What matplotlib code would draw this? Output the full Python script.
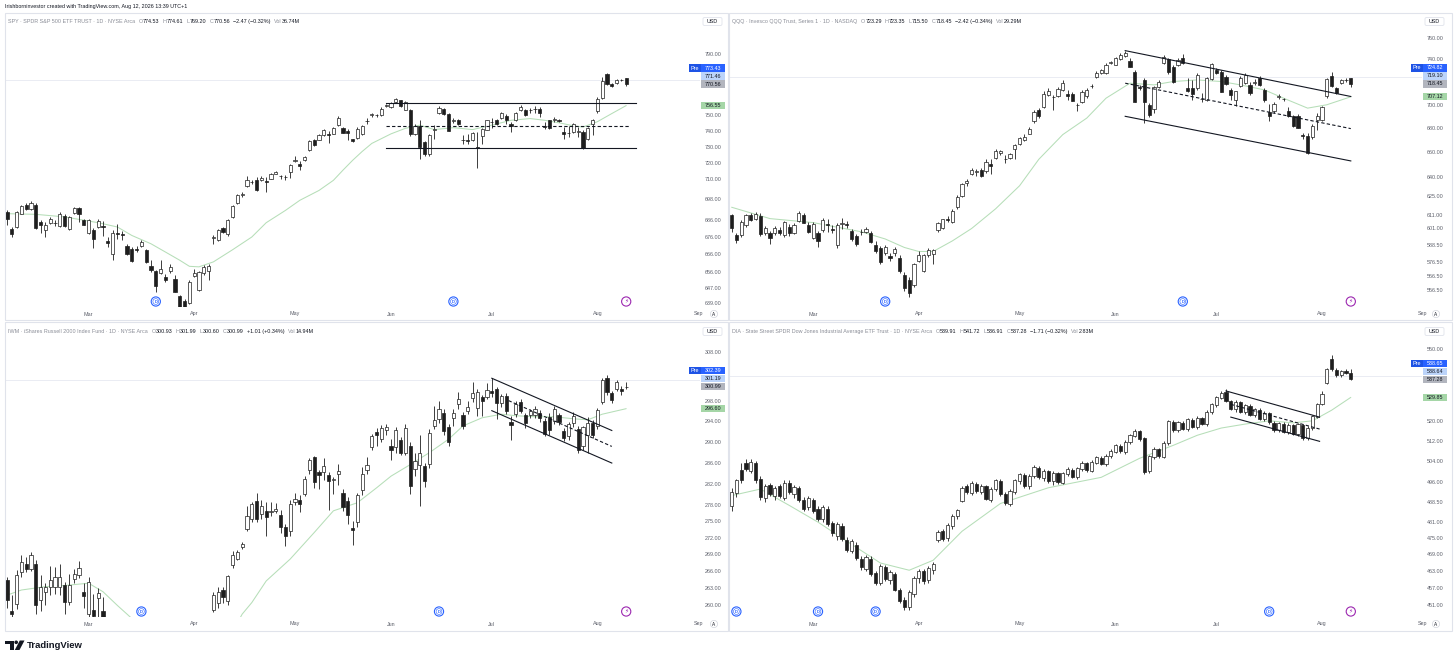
import matplotlib
matplotlib.use("Agg")
import matplotlib.pyplot as plt
from matplotlib.patches import Rectangle, Circle, Polygon, FancyBboxPatch
from matplotlib.ticker import NullLocator
import numpy as np

plt.rcParams['font.family'] = ['Liberation Sans', 'DejaVu Sans']

# ---------------------------------------------------------------- data
MONTHS = ['Mar', 'Apr', 'May', 'Jun', 'Jul', 'Aug', 'Sep']
MONTH_BAR = [17, 39, 60, 80, 101, 123, 144]

# SPY daily candles (bar 0 = early Feb 2026, bar 129 = Aug 11 2026)
SPY_O = [690.8, 681.1, 682.1, 689.9, 695.3, 692.4, 694.9, 685.0, 680.5, 684.4,
         684.6, 682.7, 688.4, 681.1, 690.1, 693.3, 686.4, 678.6, 680.5, 682.1,
         682.9, 674.0, 666.8, 678.8, 678.2, 671.3, 669.6, 669.4, 671.3, 668.7,
         660.0, 656.9, 655.9, 653.6, 657.0, 652.5, 642.9, 640.5, 639.5, 654.3,
         646.5, 655.9, 656.9, 676.0, 674.8, 681.5, 677.8, 688.0, 696.0, 701.2,
         706.2, 708.6, 710.3, 709.8, 709.6, 710.8, 713.8, 712.5, 712.0, 714.6,
         721.7, 720.0, 722.0, 728.1, 734.8, 734.8, 737.8, 738.2, 738.6, 744.3,
         742.0, 740.5, 735.0, 735.6, 738.2, 746.6, 750.6, 750.4, 750.6, 756.0,
         755.3, 758.9, 759.9, 753.9, 753.9, 738.6, 743.3, 733.4, 726.1, 741.0,
         751.8, 754.6, 751.4, 746.7, 747.5, 734.9, 734.9, 734.4, 730.4, 737.0,
         741.2, 746.3, 747.5, 748.6, 749.6, 744.9, 747.1, 753.5, 753.9, 753.4,
         754.6, 754.1, 743.6, 747.1, 747.0, 747.1, 739.6, 739.0, 739.6, 739.8,
         739.6, 735.4, 744.5, 752.8, 761.4, 777.0, 770.9, 771.1, 773.0, 774.53]
SPY_H = [692.2, 682.1, 691.4, 695.0, 696.0, 697.2, 696.0, 686.4, 685.0, 688.0,
         686.0, 690.8, 689.5, 688.6, 694.0, 694.0, 687.0, 687.0, 681.5, 686.6,
         685.4, 676.3, 680.1, 684.0, 679.7, 672.0, 670.6, 671.1, 674.8, 669.5,
         663.0, 657.5, 663.0, 655.5, 660.8, 654.6, 643.5, 641.2, 652.0, 658.3,
         657.0, 660.2, 660.8, 677.2, 681.0, 682.3, 687.0, 695.3, 701.5, 702.6,
         712.7, 710.1, 711.7, 712.3, 711.6, 714.2, 715.4, 713.2, 712.9, 720.0,
         724.4, 721.6, 724.6, 734.4, 735.5, 738.2, 741.5, 740.5, 743.0, 749.9,
         742.6, 741.3, 735.4, 742.6, 744.0, 748.6, 752.0, 751.4, 755.3, 757.6,
         759.0, 761.3, 760.4, 759.5, 754.5, 744.5, 747.1, 734.0, 738.6, 744.0,
         756.1, 755.0, 752.0, 748.8, 748.0, 737.6, 738.6, 739.6, 739.6, 742.4,
         747.6, 748.8, 748.0, 752.4, 750.8, 746.0, 752.2, 756.6, 754.5, 754.8,
         756.5, 755.5, 746.0, 747.5, 749.3, 747.8, 742.8, 743.2, 745.5, 742.6,
         741.0, 743.0, 748.0, 762.0, 775.0, 778.0, 771.5, 774.0, 774.0, 774.61]
SPY_L = [683.1, 676.3, 681.5, 689.5, 691.8, 691.9, 681.0, 678.6, 676.3, 684.0,
         682.9, 682.3, 682.3, 680.5, 689.9, 685.0, 683.0, 678.0, 670.2, 681.5,
         676.7, 670.6, 663.0, 675.3, 674.4, 666.0, 662.0, 667.7, 670.6, 661.5,
         656.5, 645.4, 655.5, 650.9, 655.9, 645.2, 634.0, 633.0, 638.5, 653.6,
         645.9, 655.0, 652.2, 672.0, 674.0, 678.6, 677.0, 687.5, 695.5, 699.8,
         705.8, 707.4, 703.4, 709.4, 703.0, 710.5, 713.6, 710.5, 709.8, 711.0,
         721.2, 715.8, 721.6, 727.7, 731.0, 734.4, 737.4, 733.0, 738.2, 743.7,
         738.8, 734.4, 733.4, 735.0, 737.6, 744.7, 749.3, 749.0, 750.0, 755.3,
         755.0, 758.5, 755.8, 753.5, 737.0, 738.0, 723.0, 724.6, 724.4, 735.0,
         751.4, 750.5, 740.0, 745.4, 744.0, 732.3, 732.3, 733.8, 717.0, 732.3,
         740.8, 742.4, 744.4, 748.0, 745.0, 739.8, 746.6, 753.0, 749.8, 751.6,
         751.6, 749.2, 741.5, 741.8, 746.0, 746.0, 735.5, 736.5, 739.0, 736.5,
         729.2, 734.5, 738.0, 752.0, 760.8, 770.0, 768.8, 770.8, 772.5, 769.20]
SPY_C = [686.6, 678.2, 690.8, 694.3, 692.4, 696.3, 681.5, 683.1, 683.5, 686.6,
         684.4, 689.9, 682.7, 688.0, 693.3, 689.9, 683.5, 686.4, 675.3, 685.8,
         682.1, 672.8, 678.6, 678.0, 677.2, 666.8, 662.6, 668.8, 673.2, 662.0,
         657.4, 648.5, 658.3, 651.8, 659.3, 645.5, 636.0, 634.5, 651.1, 655.9,
         656.4, 659.3, 659.7, 676.2, 680.1, 679.2, 686.4, 694.5, 700.8, 701.5,
         710.3, 708.8, 704.2, 711.2, 708.6, 713.8, 714.6, 712.3, 711.9, 719.0,
         722.5, 718.4, 724.0, 733.8, 731.6, 737.6, 741.0, 738.0, 742.4, 748.4,
         739.2, 739.2, 733.8, 741.8, 743.2, 746.8, 750.8, 750.6, 754.6, 756.8,
         758.5, 760.8, 756.2, 758.9, 738.4, 743.3, 730.2, 725.7, 737.6, 741.4,
         755.0, 751.0, 740.6, 747.3, 744.5, 734.7, 733.8, 739.0, 729.4, 741.7,
         747.1, 746.1, 745.0, 751.6, 747.5, 743.2, 751.6, 755.5, 750.2, 753.9,
         754.4, 752.0, 743.0, 742.4, 747.8, 746.9, 738.2, 738.8, 744.9, 740.4,
         729.8, 742.4, 747.1, 761.0, 772.8, 770.6, 769.6, 773.3, 773.2, 770.56]
SPY_SMA_X = [0, 6, 12, 19, 23, 26, 30, 33, 36, 38, 40, 43, 47, 51, 54, 58, 61, 65, 68, 70,
             72, 74, 76, 80, 83, 86, 89, 93, 97, 101, 105, 109, 112, 115, 118, 120, 123, 126, 129]
SPY_SMA_Y = [689.9, 689.5, 688.0, 684.6, 682.1, 677.2, 672.4, 667.7, 663.0, 659.6,
             659.3, 662.1, 669.0, 676.3, 684.6, 691.8, 697.8, 703.7, 709.8, 716.0,
             722.0, 727.5, 732.5, 738.5, 742.0, 744.0, 741.2, 742.4, 741.2, 744.0,
             747.1, 748.2, 747.1, 745.5, 743.6, 742.8, 746.2, 751.4, 756.55]
SPY_TICKS = [639, 647, 656, 666, 676, 686, 698, 710, 720, 730, 740, 750, 760, 770, 780, 790]
SPY_PRE, SPY_POST = 773.43, 771.46
SPY_LINE_X = [(79, 131), (79, 131), (79, 129.5)]
SPY_LINE_Y = [(758.2, 758.2), (729.6, 729.6), (743.7, 743.7)]
SPY_LINE_STYLE = ['solid', 'solid', 'dashed']
SPY_DIV = [31, 93]
SPY_EARN = [129]

# QQQ
QQQ_O = [610.8, 596.2, 596.2, 603.4, 611.3, 608.4, 610.3, 597.4, 597.4, 598.0,
         599.8, 596.2, 602.2, 598.0, 606.7, 611.3, 603.4, 594.3, 597.4, 599.8,
         604.6, 601.0, 589.0, 604.2, 604.6, 599.0, 595.7, 598.6, 598.6, 597.4,
         589.0, 586.6, 583.0, 580.7, 583.0, 579.5, 567.5, 563.9, 560.7, 577.7,
         570.3, 581.9, 582.1, 599.8, 601.5, 607.9, 605.9, 616.8, 625.9, 635.9,
         642.7, 644.5, 646.1, 645.3, 650.6, 656.0, 660.0, 655.1, 656.0, 662.7,
         666.8, 670.8, 675.8, 686.0, 695.4, 698.2, 708.8, 707.0, 708.2, 713.2,
         709.7, 709.7, 699.9, 702.7, 707.4, 716.4, 724.4, 728.6, 728.0, 737.5,
         735.5, 740.6, 743.7, 739.4, 729.4, 716.1, 722.0, 700.2, 696.2, 716.1,
         737.0, 740.6, 734.0, 735.5, 741.5, 714.6, 714.6, 714.6, 705.4, 704.5,
         723.0, 730.9, 729.4, 725.0, 713.2, 704.0, 717.0, 719.1, 717.6, 719.1,
         723.5, 713.2, 693.7, 694.5, 707.0, 705.0, 694.5, 690.3, 690.9, 674.3,
         674.1, 673.0, 686.9, 687.4, 707.4, 725.6, 714.6, 719.4, 722.0, 723.29]
QQQ_H = [612.0, 597.4, 607.0, 612.0, 613.0, 613.4, 612.5, 603.0, 599.0, 602.5,
         602.0, 606.5, 604.0, 605.0, 613.8, 612.5, 605.5, 606.0, 599.5, 609.0,
         608.4, 603.4, 605.0, 608.9, 606.5, 600.5, 597.0, 600.5, 602.0, 599.0,
         591.5, 588.0, 589.0, 583.0, 587.8, 581.5, 569.5, 566.0, 576.0, 584.2,
         582.5, 587.0, 586.0, 605.9, 608.0, 610.0, 615.3, 626.5, 636.0, 639.2,
         647.5, 646.6, 647.5, 654.6, 654.6, 662.7, 662.5, 657.8, 660.0, 667.0,
         673.0, 675.0, 681.3, 695.9, 697.0, 712.0, 714.6, 708.8, 716.1, 722.0,
         713.2, 711.0, 701.8, 713.2, 714.6, 718.0, 730.0, 731.5, 737.0, 739.5,
         743.0, 746.5, 748.6, 741.5, 731.0, 717.5, 723.5, 702.0, 717.0, 721.5,
         745.0, 742.0, 735.0, 741.5, 745.5, 723.5, 722.0, 728.0, 710.3, 725.0,
         737.5, 732.5, 730.5, 726.0, 714.5, 712.0, 725.5, 728.0, 720.0, 722.5,
         725.5, 715.0, 700.5, 702.5, 709.7, 706.5, 698.2, 691.5, 692.0, 676.3,
         676.0, 683.5, 693.1, 699.5, 724.0, 728.8, 716.0, 723.0, 723.5, 723.35]
QQQ_L = [598.6, 590.2, 595.0, 602.0, 606.5, 607.0, 595.5, 596.0, 589.5, 596.5,
         596.5, 595.0, 595.5, 597.0, 606.0, 605.0, 597.5, 593.0, 587.8, 598.6,
         598.6, 597.4, 587.0, 601.0, 601.5, 592.0, 588.5, 596.2, 597.4, 590.4,
         583.0, 574.9, 582.0, 577.2, 580.7, 569.0, 556.5, 552.2, 558.9, 576.5,
         569.5, 580.5, 575.4, 598.6, 600.5, 605.5, 605.0, 616.0, 625.0, 633.6,
         641.8, 641.4, 640.5, 644.0, 642.7, 655.0, 658.5, 651.9, 654.5, 655.0,
         666.0, 669.5, 675.0, 685.0, 689.0, 697.5, 708.0, 695.3, 707.0, 712.5,
         704.5, 703.5, 694.6, 701.5, 706.5, 715.0, 723.5, 727.5, 727.0, 736.0,
         735.0, 740.0, 742.4, 733.5, 702.8, 713.2, 684.6, 690.0, 693.1, 715.0,
         736.0, 727.5, 719.0, 734.5, 736.0, 711.7, 704.5, 713.5, 703.0, 703.5,
         722.0, 727.5, 711.5, 717.5, 704.5, 699.5, 716.0, 718.0, 709.0, 717.5,
         716.5, 703.0, 686.0, 693.0, 705.0, 703.5, 689.5, 681.5, 680.0, 671.5,
         659.0, 671.5, 679.1, 686.5, 706.5, 716.0, 709.5, 718.5, 720.0, 715.50]
QQQ_C = [601.5, 592.6, 605.9, 610.8, 607.2, 612.0, 596.7, 601.5, 593.8, 601.5,
         597.4, 605.9, 597.4, 603.9, 612.6, 605.4, 598.6, 604.6, 591.9, 607.1,
         603.4, 599.8, 603.9, 604.8, 603.4, 593.3, 589.5, 598.1, 600.5, 590.9,
         584.2, 576.7, 587.1, 579.5, 586.1, 570.3, 558.4, 554.9, 574.9, 581.4,
         581.9, 585.4, 585.4, 605.4, 607.9, 607.2, 613.8, 624.9, 634.9, 637.5,
         646.1, 645.3, 640.9, 652.5, 649.3, 661.3, 661.3, 654.9, 658.6, 666.2,
         672.2, 672.9, 679.6, 693.7, 690.3, 709.7, 712.6, 706.7, 713.8, 719.7,
         708.0, 703.9, 699.6, 711.7, 713.2, 716.8, 728.6, 730.9, 735.5, 737.7,
         741.5, 744.6, 746.8, 734.0, 703.0, 714.6, 703.0, 691.7, 716.1, 720.5,
         743.1, 728.9, 720.5, 740.0, 737.0, 712.6, 709.7, 726.5, 705.0, 723.5,
         736.4, 728.0, 711.7, 718.5, 708.8, 712.4, 723.8, 726.5, 710.3, 720.6,
         717.6, 704.5, 690.3, 701.0, 708.0, 704.8, 690.3, 682.4, 680.4, 673.8,
         659.9, 682.4, 690.9, 698.2, 722.9, 716.7, 710.3, 722.3, 722.2, 718.45]
QQQ_SMA_X = [0, 8, 17, 27, 32, 36, 39, 42, 46, 50, 55, 60, 64, 69, 74, 78, 83, 88, 92, 97,
             102, 106, 111, 115, 120, 124, 129]
QQQ_SMA_Y = [617.0, 608.4, 605.4, 598.6, 593.3, 587.1, 584.2, 584.2, 591.9, 601.0,
             615.8, 633.6, 654.6, 674.9, 688.8, 705.9, 719.1, 717.6, 720.6, 722.0,
             720.6, 717.6, 713.2, 705.9, 697.3, 700.2, 707.12]
QQQ_TICKS = [556.5, 566.5, 576.5, 588.5, 601, 611, 625, 640, 660, 680, 700, 720, 740, 760]
QQQ_PRE, QQQ_POST = 724.82, 719.10
QQQ_LINE_X = [(82, 129), (82, 129), (82, 129)]
QQQ_LINE_Y = [(748.6, 707.4), (719.1, 679.9), (690.3, 653.3)]
QQQ_LINE_STYLE = ['solid', 'dashed', 'solid']
QQQ_DIV = [32, 94]
QQQ_EARN = [129]

# IWM
IWM_O = [264.4, 259.0, 260.3, 265.8, 267.3, 266.4, 267.3, 260.9, 262.4, 263.2,
         263.2, 263.2, 263.6, 260.6, 264.7, 265.4, 262.4, 258.5, 259.2, 261.3,
         259.0, 256.0, 253.2, 256.6, 255.9, 254.0, 252.5, 251.2, 252.3, 252.8,
         249.8, 248.0, 246.0, 247.6, 247.0, 247.5, 243.0, 242.0, 241.2, 247.5,
         246.5, 250.3, 251.0, 259.2, 260.4, 262.7, 260.8, 267.2, 268.3, 270.3,
         273.7, 275.5, 278.9, 276.4, 277.0, 276.7, 277.0, 276.3, 274.1, 273.3,
         278.6, 279.0, 280.2, 284.6, 287.2, 284.2, 284.2, 283.8, 282.8, 284.0,
         280.3, 278.8, 273.9, 274.9, 280.8, 284.7, 289.1, 292.1, 290.6, 292.4,
         289.2, 289.0, 290.5, 288.0, 289.2, 284.8, 285.7, 285.5, 285.8, 293.1,
         294.5, 295.8, 293.0, 294.7, 297.5, 295.4, 296.1, 298.7, 296.8, 299.0,
         299.0, 300.1, 300.6, 297.7, 299.2, 294.0, 295.5, 298.0, 295.3, 295.3,
         295.3, 295.7, 294.2, 295.0, 294.1, 295.4, 292.2, 291.3, 293.7, 292.5,
         289.2, 291.4, 293.8, 293.1, 297.9, 302.7, 299.7, 300.6, 300.6, 300.93]
IWM_H = [265.0, 261.8, 266.2, 268.9, 268.5, 269.4, 268.0, 265.3, 264.0, 267.0,
         266.8, 267.3, 264.1, 265.5, 266.5, 267.8, 264.0, 265.0, 262.0, 263.0,
         261.5, 257.2, 257.5, 257.6, 256.8, 254.4, 253.0, 252.6, 254.0, 253.2,
         250.8, 248.4, 249.0, 248.0, 249.4, 248.3, 243.4, 242.4, 246.8, 249.6,
         250.5, 252.4, 253.0, 262.4, 263.2, 263.3, 265.4, 269.6, 269.8, 271.2,
         277.9, 278.6, 280.4, 279.0, 278.6, 278.6, 278.4, 277.2, 274.5, 279.0,
         280.3, 279.9, 283.5, 287.0, 287.3, 284.7, 286.9, 284.3, 283.4, 285.8,
         281.0, 279.6, 275.1, 280.3, 285.2, 287.2, 291.6, 292.7, 293.4, 293.5,
         290.7, 293.0, 291.0, 293.5, 290.0, 288.0, 291.5, 286.0, 292.5, 297.1,
         298.1, 296.5, 293.5, 296.5, 300.0, 296.0, 298.2, 302.0, 300.5, 299.4,
         301.7, 302.8, 301.0, 299.5, 299.8, 295.1, 298.2, 298.5, 295.8, 296.6,
         297.2, 296.3, 294.7, 295.7, 297.2, 295.8, 292.8, 294.0, 296.0, 293.2,
         293.2, 295.0, 294.4, 296.7, 302.7, 303.4, 300.2, 302.4, 301.1, 301.99]
IWM_L = [259.5, 257.0, 259.4, 265.0, 265.8, 266.0, 258.5, 259.0, 260.0, 261.8,
         262.0, 261.8, 258.6, 260.0, 264.0, 264.8, 259.5, 257.5, 256.0, 257.0,
         255.5, 253.9, 252.5, 255.0, 254.5, 251.5, 250.2, 250.5, 251.8, 250.0,
         247.9, 244.2, 245.6, 245.5, 246.6, 243.5, 240.2, 239.3, 240.8, 247.0,
         246.0, 249.8, 249.5, 258.9, 259.5, 260.5, 260.0, 266.6, 268.0, 270.0,
         273.2, 274.9, 274.9, 275.5, 272.4, 276.0, 276.6, 273.0, 270.6, 272.4,
         278.0, 276.8, 279.8, 284.0, 281.3, 281.0, 282.7, 277.2, 280.2, 281.8,
         277.0, 274.5, 270.8, 274.0, 280.0, 284.0, 288.5, 289.2, 290.0, 291.5,
         286.6, 288.0, 287.5, 287.5, 280.1, 283.5, 277.9, 281.5, 285.0, 292.5,
         293.8, 291.5, 289.2, 293.1, 296.6, 292.6, 295.5, 298.0, 295.2, 295.2,
         298.5, 299.0, 294.6, 297.0, 295.5, 290.4, 295.0, 295.8, 292.8, 294.8,
         294.8, 294.0, 291.2, 291.5, 293.5, 293.3, 290.2, 290.5, 293.0, 288.0,
         288.5, 287.9, 290.8, 292.6, 297.5, 299.4, 297.8, 300.2, 299.4, 300.60]
IWM_C = [260.9, 258.6, 265.3, 267.6, 266.4, 268.9, 260.1, 263.2, 263.2, 264.4,
         265.0, 265.0, 260.6, 263.6, 265.6, 266.6, 261.6, 264.2, 258.2, 262.1,
         257.0, 254.4, 256.8, 255.6, 255.2, 251.8, 250.6, 252.0, 253.6, 250.3,
         248.4, 245.2, 248.5, 246.0, 249.0, 243.8, 241.0, 240.0, 246.2, 249.0,
         250.1, 252.0, 252.6, 261.8, 262.4, 261.5, 265.2, 268.9, 269.4, 270.9,
         276.1, 278.2, 275.4, 277.9, 275.8, 277.0, 277.4, 274.1, 272.4, 278.3,
         279.2, 278.3, 282.9, 286.6, 282.4, 283.7, 285.5, 282.6, 282.9, 284.5,
         277.8, 276.3, 273.4, 280.0, 283.9, 285.6, 291.2, 291.5, 292.8, 293.0,
         288.5, 292.3, 288.0, 292.8, 281.7, 286.3, 288.0, 282.6, 291.9, 294.4,
         296.6, 292.2, 290.0, 295.8, 298.5, 293.1, 296.9, 299.8, 300.0, 298.2,
         300.4, 299.7, 297.7, 299.1, 296.2, 293.3, 297.6, 296.2, 293.7, 296.2,
         296.6, 294.7, 291.7, 292.3, 296.6, 293.9, 290.9, 293.5, 295.2, 288.5,
         292.9, 293.7, 291.4, 296.4, 302.3, 300.0, 298.3, 301.9, 300.2, 300.99]
IWM_SMA_X = [0, 3, 8, 12, 17, 20, 23, 25, 29, 33, 37, 41, 44, 47, 49, 51, 54, 59, 64, 68,
             73, 77, 80, 84, 88, 92, 95, 99, 103, 106, 110, 114, 118, 121, 124, 129]
IWM_SMA_Y = [261.8, 262.7, 263.3, 263.5, 263.9, 262.4, 260.0, 258.5, 255.5, 252.5,
             250.5, 250.0, 251.5, 255.5, 258.5, 260.5, 264.3, 268.2, 273.0, 277.0,
             278.5, 281.3, 283.5, 285.7, 288.0, 290.6, 293.2, 294.8, 295.5, 295.2,
             295.0, 295.0, 294.6, 294.4, 295.5, 296.6]
IWM_TICKS = [260, 263, 266, 269, 272, 275, 278, 282, 286, 290, 294, 298, 302, 308]
IWM_PRE, IWM_POST = 302.39, 301.19
IWM_LINE_X = [(101, 126), (101, 126), (104.5, 126)]
IWM_LINE_Y = [(302.7, 292.3), (296.2, 286.0), (298.2, 289.2)]
IWM_LINE_STYLE = ['solid', 'solid', 'dashed']
IWM_DIV = [28, 90]
IWM_EARN = [129]

# DIA
DIA_O = [487.0, 492.0, 501.0, 503.5, 500.5, 503.5, 497.5, 490.0, 495.0, 491.0,
         494.5, 490.2, 495.8, 491.5, 494.0, 489.5, 486.5, 489.5, 486.0, 482.0,
         486.0, 480.8, 476.0, 479.5, 474.5, 470.5, 472.5, 467.5, 464.0, 467.5,
         462.5, 459.0, 464.5, 460.0, 462.0, 456.5, 453.0, 450.5, 455.0, 460.5,
         463.0, 459.8, 463.5, 474.5, 477.8, 475.0, 479.5, 483.2, 489.0, 494.5,
         492.0, 495.5, 492.5, 494.5, 489.5, 493.5, 496.5, 491.5, 488.0, 492.5,
         496.5, 498.8, 494.5, 498.5, 501.8, 497.8, 500.4, 496.5, 499.6, 496.0,
         499.3, 501.0, 498.0, 501.3, 503.4, 500.6, 503.6, 505.6, 503.0, 506.2,
         508.0, 510.4, 508.0, 511.8, 514.4, 516.2, 513.5, 500.5, 506.0, 509.0,
         506.0, 511.4, 520.0, 516.6, 519.6, 517.0, 520.8, 517.8, 521.4, 519.0,
         523.8, 526.8, 529.8, 532.0, 528.2, 525.0, 527.8, 524.0, 526.4, 522.6,
         524.8, 521.0, 523.4, 519.6, 516.5, 519.2, 516.0, 518.6, 515.0, 518.5,
         513.4, 517.4, 522.0, 527.2, 535.8, 546.0, 541.4, 539.0, 540.6, 539.91]
DIA_H = [494.0, 497.5, 503.5, 505.2, 505.0, 504.5, 498.5, 495.5, 496.0, 494.5,
         495.5, 496.8, 497.0, 495.0, 494.8, 490.5, 491.0, 490.2, 487.0, 487.5,
         487.0, 481.5, 481.0, 480.5, 475.5, 474.8, 473.5, 468.5, 468.8, 468.4,
         463.2, 465.5, 465.2, 463.5, 462.8, 457.2, 454.0, 456.5, 461.2, 463.8,
         464.0, 464.8, 466.5, 478.0, 478.5, 480.5, 484.0, 486.0, 494.8, 495.5,
         496.5, 496.2, 495.5, 495.0, 494.2, 497.5, 497.2, 492.2, 493.5, 497.2,
         499.8, 499.5, 499.2, 502.8, 502.5, 501.2, 501.0, 500.5, 500.2, 500.2,
         502.0, 501.6, 502.2, 504.4, 504.0, 504.6, 506.5, 506.2, 507.0, 509.0,
         511.2, 511.0, 512.6, 515.2, 517.0, 516.8, 514.0, 506.8, 509.8, 509.6,
         512.2, 520.8, 520.6, 520.4, 520.2, 521.6, 521.4, 522.2, 522.0, 524.6,
         527.6, 530.5, 532.5, 533.2, 528.8, 528.6, 528.4, 527.2, 527.0, 525.6,
         525.4, 524.2, 524.0, 520.2, 520.0, 519.8, 519.4, 519.2, 519.5, 519.2,
         518.2, 522.8, 527.5, 532.4, 542.2, 547.6, 542.0, 541.4, 541.6, 541.72]
DIA_L = [485.0, 490.5, 496.0, 500.5, 499.5, 496.0, 489.5, 488.5, 490.8, 489.5,
         490.0, 489.5, 491.5, 490.0, 488.5, 485.2, 485.5, 484.5, 481.5, 481.0,
         479.5, 476.0, 474.5, 474.0, 470.0, 469.5, 467.0, 463.5, 463.0, 461.5,
         458.0, 458.0, 459.5, 458.5, 456.0, 451.8, 449.5, 449.2, 454.0, 459.0,
         458.5, 459.0, 462.0, 473.5, 474.0, 474.0, 478.5, 482.0, 488.5, 491.5,
         491.2, 492.0, 491.5, 489.2, 488.5, 492.8, 491.0, 487.5, 487.0, 491.8,
         495.5, 493.8, 493.5, 497.8, 497.2, 496.5, 496.0, 495.2, 495.5, 495.5,
         498.5, 497.6, 497.2, 500.6, 500.2, 500.0, 503.0, 502.6, 502.4, 505.6,
         507.4, 507.6, 507.2, 511.2, 513.8, 512.4, 499.2, 499.8, 505.2, 505.6,
         505.4, 510.8, 516.0, 516.0, 516.6, 516.4, 517.4, 517.2, 518.6, 518.4,
         523.2, 526.0, 529.0, 527.8, 524.5, 524.0, 523.5, 523.2, 522.2, 521.8,
         520.5, 520.2, 519.2, 516.0, 515.8, 515.5, 515.0, 514.5, 514.2, 512.8,
         512.6, 516.8, 521.4, 526.6, 535.2, 540.8, 538.2, 538.4, 539.4, 536.91]
DIA_C = [492.5, 496.8, 497.0, 501.2, 504.0, 496.8, 490.5, 494.8, 491.6, 493.8,
         490.8, 496.0, 492.2, 494.4, 489.2, 486.0, 490.2, 485.2, 482.3, 486.8,
         480.2, 476.8, 480.2, 474.8, 470.8, 474.0, 467.8, 464.4, 468.0, 462.2,
         458.8, 465.0, 460.2, 462.8, 456.5, 452.4, 450.4, 455.8, 460.5, 463.2,
         459.5, 464.2, 465.8, 477.2, 474.8, 479.8, 483.4, 485.5, 494.0, 492.2,
         495.8, 492.8, 494.8, 489.8, 493.6, 497.0, 491.6, 488.2, 492.8, 496.8,
         499.2, 494.5, 498.6, 502.2, 498.0, 500.6, 496.6, 499.8, 496.2, 499.5,
         501.2, 498.2, 501.5, 503.6, 500.8, 503.8, 505.8, 503.2, 506.4, 508.2,
         510.6, 508.2, 512.0, 514.6, 516.4, 513.0, 500.2, 506.2, 509.2, 506.2,
         511.6, 520.2, 516.8, 519.8, 517.2, 521.0, 518.0, 521.6, 519.2, 524.0,
         527.0, 530.0, 531.8, 528.4, 525.2, 528.0, 524.0, 526.6, 522.8, 525.0,
         521.2, 523.6, 519.8, 516.6, 519.4, 516.0, 518.8, 515.0, 519.0, 513.4,
         517.6, 522.2, 527.0, 531.2, 541.5, 541.6, 539.0, 540.8, 540.1, 537.28]
DIA_SMA_X = [0, 6, 12, 18, 25, 31, 37, 42, 48, 56, 66, 77, 85, 92, 97, 102, 107, 112, 117, 121, 125, 129]
DIA_SMA_Y = [491.0, 493.5, 487.3, 481.0, 472.8, 466.0, 463.4, 467.0, 477.6, 488.0,
             494.0, 498.0, 505.4, 510.5, 514.5, 517.4, 519.0, 520.3, 519.5, 520.3,
             524.6, 529.85]
DIA_TICKS = [451, 457, 463, 469, 475, 481, 488.5, 496, 504, 512, 520, 530, 540, 550]
DIA_PRE, DIA_POST = 538.65, 538.64
DIA_LINE_X = [(103, 122.5), (104, 122.5), (104, 122.5)]
DIA_LINE_Y = [(532.5, 521.8), (521.8, 512.1), (527.0, 517.0)]
DIA_LINE_STYLE = ['solid', 'solid', 'dashed']
DIA_DIV = [1, 18, 30, 112]
DIA_EARN = [129]

# ---------------------------------------------------------------- layout / style
W, H, DPI = 1456, 660, 100
PT = 72.0 / DPI
BAR_PX = 4.8
FS = 3.9
DARK = '#131722'
GRAY = '#8a8d97'
TICKC = '#5d606b'
DOWN = '#1e1e1e'

fig = plt.figure(figsize=(W / DPI, H / DPI), dpi=DPI, facecolor='white')
ov = fig.add_axes([0, 0, 1, 1], zorder=10)
ov.set_xlim(0, W)
ov.set_ylim(H, 0)
ov.axis('off')
ov.patch.set_alpha(0)


def legend(x, y, parts):
    t = ov.text(x, y, parts[0][0], color=parts[0][1], fontsize=FS, ha='left', va='center')
    for s, col, gap in parts[1:]:
        t = ov.annotate(s, xy=(1, 0.5), xycoords=t, xytext=(gap * PT, 0),
                        textcoords='offset points', ha='left', va='center',
                        color=col, fontsize=FS)


def panel(box, frame, x0, yr, o, h, lo, c, sma_x, sma_y, ticks, pre, post,
          lx, ly, lst, div, earn, title, chg, vol):
    l, t, r, b = box
    ax = fig.add_axes([l / W, 1 - b / H, (r - l) / W, (b - t) / H], zorder=1)
    ax.set_facecolor('none')
    ax.set_yscale('log')
    ax.set_xlim(x0, x0 + (r - l) / BAR_PX)
    ax.set_ylim(*yr)
    for s in ax.spines.values():
        s.set_visible(False)
    for a in (ax.xaxis, ax.yaxis):
        a.set_major_locator(NullLocator())
        a.set_minor_locator(NullLocator())

    o, h, lo, c = map(np.asarray, (o, h, lo, c))
    idx = np.arange(len(c))
    ax.axhline(pre, color='#e6e9f1', lw=0.6, zorder=1)
    ax.plot(sma_x, sma_y, color='#b6deb8', lw=0.75, zorder=2, solid_capstyle='round')
    ax.vlines(idx, lo, h, color=DOWN, lw=0.6, zorder=3)
    up = c >= o
    bot = np.minimum(o, c)
    hgt = np.maximum(np.abs(c - o), bot * 0.0003)
    ax.bar(idx[up], hgt[up], bottom=bot[up], width=0.64, color='white',
           edgecolor=DOWN, linewidth=0.5, zorder=4)
    ax.bar(idx[~up], hgt[~up], bottom=bot[~up], width=0.64, color=DOWN,
           edgecolor=DOWN, linewidth=0.5, zorder=4)
    for xs, ys, st in zip(lx, ly, lst):
        ls = (0, (3, 2)) if st == 'dashed' else '-'
        ax.plot(xs, ys, color=DARK, lw=0.8, ls=ls, zorder=5)

    def ypx(v):
        return H - ax.transData.transform((0, v))[1]

    def xpx(i):
        return ax.transData.transform((i, yr[0]))[0]

    # frame
    fl, ft, fr, fb = frame
    ov.add_patch(Rectangle((fl, ft), fr - fl, fb - ft, fill=False, ec='#e0e3eb', lw=0.8, zorder=1))

    # colored price labels (stacked like TradingView)
    yc = ypx(c[-1])
    ypost = min(ypx(post), yc - 8)
    ypre = min(ypx(pre), ypost - 8)
    ysma = ypx(sma_y[-1])
    if abs(ysma - yc) < 8:
        ysma = yc + 8
    busy = [yc, ypost, ypre, ysma]
    for tv in ticks:
        y = ypx(tv)
        if y < t + 16 or y > b - 2:
            continue
        if any(abs(y - yy) < 5.5 for yy in busy):
            continue
        ov.text(r + 13, y, f"{tv:.2f}", ha='center', va='center', fontsize=FS, color=TICKC, zorder=3)

    def tag(y, txt, fc, tc):
        ov.add_patch(Rectangle((r + 1, y - 3.6), 24, 7.2, fc=fc, ec='none', zorder=5))
        ov.text(r + 13, y, txt, ha='center', va='center', fontsize=FS, color=tc, zorder=6)

    tag(ysma, f"{sma_y[-1]:.2f}", '#a5d6a7', DARK)
    tag(yc, f"{c[-1]:.2f}", '#b2b5be', DARK)
    tag(ypost, f"{post:.2f}", '#bcd4fa', DARK)
    tag(ypre, f"{pre:.2f}", '#2962ff', 'white')
    ov.add_patch(Rectangle((r - 11.5, ypre - 3.6), 12.3, 7.2, fc='#1e53e5', ec='none', zorder=5))
    ov.text(r - 5.4, ypre, 'Pre', ha='center', va='center', fontsize=FS, color='white', zorder=6)

    # USD box and auto button
    ov.add_patch(FancyBboxPatch((r + 3, t + 4.5), 19, 8, boxstyle='round,pad=0,rounding_size=1.5',
                                fc='white', ec='#e0e3eb', lw=0.6, zorder=4))
    ov.text(r + 12.5, t + 8.5, 'USD', ha='center', va='center', fontsize=FS, color=DARK, zorder=5)
    ov.add_patch(Circle((r + 14, b + 7), 3.6, fc='white', ec='#d1d4dc', lw=0.5, zorder=4))
    ov.text(r + 14, b + 7, 'A', ha='center', va='center', fontsize=3.4, color=DARK, zorder=5)

    # months
    for name, m in zip(MONTHS, MONTH_BAR):
        ov.text(xpx(m), b + 7, name, ha='center', va='center', fontsize=FS, color=TICKC)

    # event icons
    yi = b - 5.5
    for i in div:
        x = xpx(i)
        ov.add_patch(Circle((x, yi), 4.6, fc='white', ec='#2962ff', lw=0.8, zorder=6))
        ov.add_patch(Circle((x, yi), 2.9, fc='white', ec='#2962ff', lw=0.4, zorder=6))
        ov.text(x, yi + 0.1, 'D', ha='center', va='center', fontsize=3.0, color='#2962ff',
                weight='bold', zorder=7)
    for i in earn:
        x = xpx(i)
        ov.add_patch(Circle((x, yi), 4.6, fc='white', ec='#9c27b0', lw=0.8, zorder=6))
        ov.text(x, yi, '\u26a1', ha='center', va='center', fontsize=4.2, color='#9c27b0',
                family=['DejaVu Sans'], zorder=7)

    # legend
    parts = [(title, GRAY, 0),
             ('O', GRAY, 4), (f"{o[-1]:.2f}", DARK, 0.4),
             ('H', GRAY, 3), (f"{h[-1]:.2f}", DARK, 0.4),
             ('L', GRAY, 3), (f"{lo[-1]:.2f}", DARK, 0.4),
             ('C', GRAY, 3), (f"{c[-1]:.2f}", DARK, 0.4),
             (chg, DARK, 3),
             ('Vol', GRAY, 3), (vol, DARK, 0.4)]
    legend(l + 2.5, t + 8.5, parts)


panel((5, 13, 700, 307), (4.5, 12.5, 727.5, 320), -0.4167, (637.1, 818.7),
      SPY_O, SPY_H, SPY_L, SPY_C, SPY_SMA_X, SPY_SMA_Y, SPY_TICKS, SPY_PRE, SPY_POST,
      SPY_LINE_X, SPY_LINE_Y, SPY_LINE_STYLE, SPY_DIV, SPY_EARN,
      'SPY \u00b7 SPDR S&P 500 ETF TRUST \u00b7 1D \u00b7 NYSE Arca', '\u22122.47 (\u22120.32%)', '36.74M')
panel((729, 13, 1422, 307), (729, 12.5, 1451.5, 320), -0.5417, (545.5, 784.2),
      QQQ_O, QQQ_H, QQQ_L, QQQ_C, QQQ_SMA_X, QQQ_SMA_Y, QQQ_TICKS, QQQ_PRE, QQQ_POST,
      QQQ_LINE_X, QQQ_LINE_Y, QQQ_LINE_STYLE, QQQ_DIV, QQQ_EARN,
      'QQQ \u00b7 Invesco QQQ Trust, Series 1 \u00b7 1D \u00b7 NASDAQ', '\u22122.42 (\u22120.34%)', '29.29M')
panel((5, 323, 700, 617), (4.5, 322, 727.5, 631), -0.4167, (258.0, 314.1),
      IWM_O, IWM_H, IWM_L, IWM_C, IWM_SMA_X, IWM_SMA_Y, IWM_TICKS, IWM_PRE, IWM_POST,
      IWM_LINE_X, IWM_LINE_Y, IWM_LINE_STYLE, IWM_DIV, IWM_EARN,
      'IWM \u00b7 iShares Russell 2000 Index Fund \u00b7 1D \u00b7 NYSE Arca', '+1.01 (+0.34%)', '14.94M')
panel((729, 323, 1422, 617), (729, 322, 1451.5, 631), -0.5417, (446.9, 561.3),
      DIA_O, DIA_H, DIA_L, DIA_C, DIA_SMA_X, DIA_SMA_Y, DIA_TICKS, DIA_PRE, DIA_POST,
      DIA_LINE_X, DIA_LINE_Y, DIA_LINE_STYLE, DIA_DIV, DIA_EARN,
      'DIA \u00b7 State Street SPDR Dow Jones Industrial Average ETF Trust \u00b7 1D \u00b7 NYSE Arca',
      '\u22121.71 (\u22120.32%)', '2.83M')

# header and footer
ov.text(5, 6.5, 'Irishborninvestor created with TradingView.com, Aug 12, 2026 13:39 UTC+1',
        fontsize=FS, color=DARK, ha='left', va='center')
ov.add_patch(Polygon([(5, 640.5), (13.5, 640.5), (13.5, 650), (10, 650), (10, 643.8), (5, 643.8)],
                     closed=True, fc=DARK, ec='none'))
ov.add_patch(Circle((16.2, 642.3), 1.8, fc=DARK, ec='none'))
ov.add_patch(Polygon([(19.8, 640.5), (24.5, 640.5), (19.5, 650), (14.8, 650)],
                     closed=True, fc=DARK, ec='none'))
ov.text(27, 645.3, 'TradingView', fontsize=6.8, weight='bold', color=DARK, ha='left', va='center')

fig.savefig('out.png', dpi=DPI, facecolor='white')
